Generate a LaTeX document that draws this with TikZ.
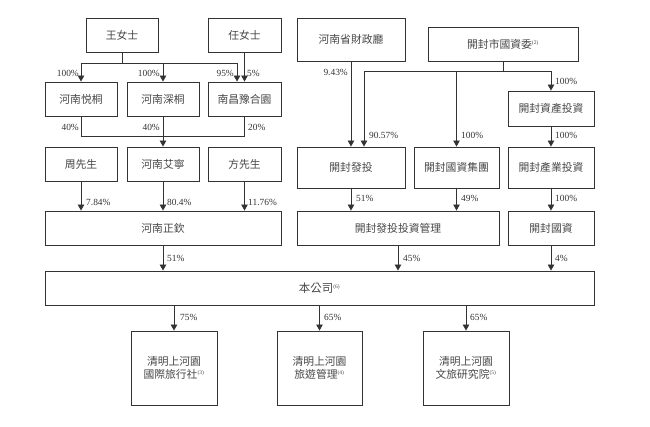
\documentclass[tikz,border=0pt]{standalone}
\usepackage{fontspec}
\setmainfont{Liberation Serif}
\newfontfamily\cjk{Noto Sans CJK TC}
\usetikzlibrary{arrows.meta}
\tikzset{
  box/.style={draw=black!80, line width=0.9pt, fill=white, inner sep=0pt, font=\cjk\fontsize{10.8}{12.5}\selectfont, text=black!72, align=center},
  arr/.style={draw=black!80, line width=0.9pt, -{Triangle[width=6.5pt,length=6pt]}},
  ln/.style={draw=black!80, line width=0.9pt},
  pw/.style={anchor=west, inner sep=0pt, font=\fontsize{9.4}{10}\selectfont, text=black!80},
  pe/.style={anchor=east, inner sep=0pt, font=\fontsize{9.4}{10}\selectfont, text=black!80},
}
\newcommand{\fn}[1]{\textsuperscript{\rmfamily\fontsize{5.5}{5.5}\selectfont(#1)}}
\begin{document}
\begin{tikzpicture}[x=1pt,y=-1pt]
\useasboundingbox (0,0) rectangle (650,427);
% boxes
\node[box, minimum width=72pt, minimum height=34pt] (wang) at (122,35) {王女士};
\node[box, minimum width=73pt, minimum height=34pt] (ren) at (244.5,35) {任女士};
\node[box, minimum width=72pt, minimum height=34pt] (yuetong) at (81,99) {河南悦桐};
\node[box, minimum width=72pt, minimum height=34pt] (shentong) at (163,99) {河南深桐};
\node[box, minimum width=73pt, minimum height=34pt] (nanchang) at (244.5,99) {南昌豫合園};
\node[box, minimum width=72pt, minimum height=34pt] (zhou) at (81,164) {周先生};
\node[box, minimum width=72pt, minimum height=34pt] (aining) at (163,164) {河南艾寧};
\node[box, minimum width=73pt, minimum height=34pt] (fang) at (244.5,164) {方先生};
\node[box, minimum width=236pt, minimum height=34pt] (zhengqin) at (163,228) {河南正欽};
\node[box, minimum width=108pt, minimum height=43pt] (caizheng) at (351,39.5) {河南省財政廳};
\node[box, minimum width=150pt, minimum height=34pt] (guozi) at (503,44) {開封市國資委\fn{2}};
\node[box, minimum width=86pt, minimum height=35pt] (zichan) at (551,108.5) {開封資產投資};
\node[box, minimum width=108pt, minimum height=41pt] (fatou) at (351,167.5) {開封發投};
\node[box, minimum width=85pt, minimum height=41pt] (jituan) at (456.5,167.5) {開封國資集團};
\node[box, minimum width=86pt, minimum height=41pt] (chanye) at (551,167.5) {開封產業投資};
\node[box, minimum width=202pt, minimum height=34pt] (guanli) at (398,228) {開封發投投資管理};
\node[box, minimum width=86pt, minimum height=34pt] (kfguozi) at (551,228) {開封國資};
\node[box, minimum width=549pt, minimum height=34pt, font=\cjk\fontsize{11.5}{13}\selectfont] (company) at (319.5,288) {本公司\fn{6}};
\node[box, minimum width=86pt, minimum height=74pt] (sub1) at (174,368) {清明上河園\\國際旅行社\fn{3}};
\node[box, minimum width=85pt, minimum height=74pt] (sub2) at (319.5,368) {清明上河園\\旅遊管理\fn{4}};
\node[box, minimum width=86pt, minimum height=74pt] (sub3) at (466,368) {清明上河園\\文旅研究院\fn{5}};
% junction coordinates
\coordinate (bar1) at (122,63);
\coordinate (bar2) at (163,136);
\coordinate (bar3) at (503,71);
% left top
\draw[ln] (wang.south) -- (wang.south|-bar1);
\draw[arr] (wang.south|-bar1) -| (yuetong.north);
\draw[arr] (shentong.north|-bar1) -- (shentong.north);
\draw[arr] (wang.south|-bar1) -| ([xshift=-7.5pt]nanchang.north);
\draw[arr] (ren.south) -- (nanchang.north);
% row 2 to aining
\draw[ln] (yuetong.south) -- (yuetong.south|-bar2) -- (nanchang.south|-bar2) -- (nanchang.south);
\draw[arr] (shentong.south) -- (aining.north);
% row 3 to zhengqin
\draw[arr] (zhou.south) -- (zhou.south|-zhengqin.north);
\draw[arr] (aining.south) -- (zhengqin.north);
\draw[arr] (fang.south) -- (fang.south|-zhengqin.north);
\draw[arr] (zhengqin.south) -- (company.north-|zhengqin.south);
% right top
\draw[arr] (caizheng.south) -- (fatou.north);
\draw[ln] (guozi.south) -- (bar3);
\draw[arr] (bar3) -| ([xshift=13pt]fatou.north);
\draw[arr] (jituan.north|-bar3) -- (jituan.north);
\draw[arr] (bar3) -| (zichan.north);
\draw[arr] (zichan.south) -- (chanye.north);
% right middle
\draw[arr] (fatou.south) -- (fatou.south|-guanli.north);
\draw[arr] (jituan.south) -- (jituan.south|-guanli.north);
\draw[arr] (chanye.south) -- (kfguozi.north);
\draw[arr] (guanli.south) -- (company.north-|guanli.south);
\draw[arr] (kfguozi.south) -- (company.north-|kfguozi.south);
% subsidiaries
\draw[arr] (company.south-|sub1.north) -- (sub1.north);
\draw[arr] (company.south-|sub2.north) -- (sub2.north);
\draw[arr] (company.south-|sub3.north) -- (sub3.north);
% labels
\node[pe] (l1) at (79,73) {100\%};
\node[pe] (l2) at (160,73) {100\%};
\node[pe] (l3) at (234,73) {95\%};
\node[pw] (l4) at (247,73) {5\%};
\node[pe] (l5) at (79,127) {40\%};
\node[pe] (l6) at (160,127) {40\%};
\node[pw] (l7) at (248,127) {20\%};
\node[pw] (l8) at (86,202) {7.84\%};
\node[pw] (l9) at (167,202) {80.4\%};
\node[pw] (l10) at (248,202) {11.76\%};
\node[pw] (l11) at (167,258) {51\%};
\node[pe] (l12) at (348,72) {9.43\%};
\node[pw] (l13) at (369,135) {90.57\%};
\node[pw] (l14) at (461,135) {100\%};
\node[pw] (l15) at (555,81) {100\%};
\node[pw] (l16) at (555,135) {100\%};
\node[pw] (l17) at (356,198) {51\%};
\node[pw] (l18) at (461,198) {49\%};
\node[pw] (l19) at (555,198) {100\%};
\node[pw] (l20) at (403,258) {45\%};
\node[pw] (l21) at (555,258) {4\%};
\node[pw] (l22) at (180,317) {75\%};
\node[pw] (l23) at (324,317) {65\%};
\node[pw] (l24) at (470,317) {65\%};
\end{tikzpicture}
\end{document}
